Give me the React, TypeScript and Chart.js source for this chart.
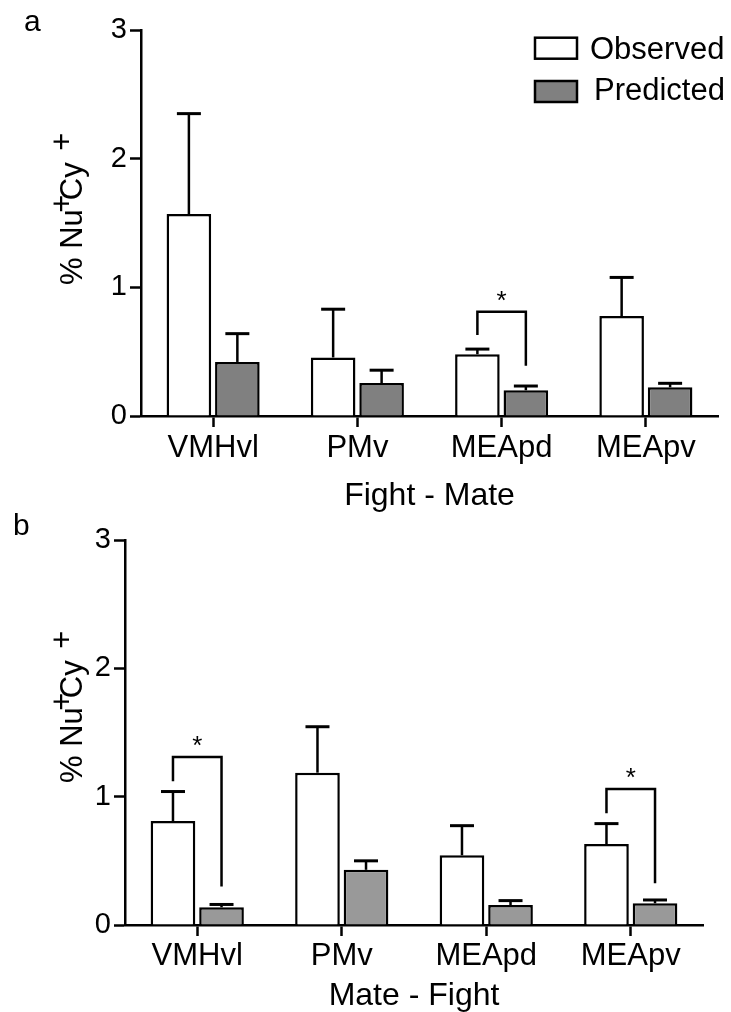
import React, { useEffect, useRef } from 'react';
import { Chart, registerables } from 'chart.js';

Chart.register(...registerables);

// ---------- data ----------
const categories = ['VMHvl', 'PMv', 'MEApd', 'MEApv'];
const seriesLabels = ['Observed', 'Predicted'];
const yTicks = [0, 1, 2, 3];

const fightMateObserved = [1.57, 0.455, 0.48, 0.777];
const fightMateObservedSem = [0.78, 0.375, 0.04, 0.3];
const fightMatePredicted = [0.42, 0.256, 0.2, 0.223];
const fightMatePredictedSem = [0.22, 0.1, 0.033, 0.031];

const mateFightObserved = [0.81, 1.187, 0.543, 0.631];
const mateFightObservedSem = [0.23, 0.358, 0.231, 0.159];
const mateFightPredicted = [0.138, 0.43, 0.156, 0.169];
const mateFightPredictedSem = [0.022, 0.07, 0.034, 0.026];

// significance brackets: category index, bracket level, left/right leg ends
const fightMateSignificance = [{ category: 2, bracket: 0.81, leftEnd: 0.63, rightEnd: 0.39 }];
const mateFightSignificance = [
  { category: 0, bracket: 1.31, leftEnd: 1.12, rightEnd: 0.3 },
  { category: 3, bracket: 1.06, leftEnd: 0.87, rightEnd: 0.325 },
];

const FAMILY = '"Liberation Sans", Arial, Helvetica, sans-serif';

type Panel = {
  letter: string;
  title: string;
  observed: number[];
  observedSem: number[];
  predicted: number[];
  predictedSem: number[];
  significance: { category: number; bracket: number; leftEnd: number; rightEnd: number }[];
  height: number;
  top: number;
  padTop: number;
  left: number;
  right: number;
  bottom: number;
  grey: string;
  tickPad: number;
  letterX: number;
  letterY: number;
  yLabelX: number;
  yLabelY: number;
  legend: boolean;
};

const panels: Panel[] = [
  {
    letter: 'a', title: 'Fight - Mate',
    observed: fightMateObserved, observedSem: fightMateObservedSem,
    predicted: fightMatePredicted, predictedSem: fightMatePredictedSem,
    significance: fightMateSignificance,
    height: 512, top: 0, padTop: 30, left: 141, right: 718, bottom: 416,
    grey: '#808080', tickPad: 3, letterX: 24, letterY: 31, yLabelX: 82, yLabelY: 285, legend: true,
  },
  {
    letter: 'b', title: 'Mate - Fight',
    observed: mateFightObserved, observedSem: mateFightObservedSem,
    predicted: mateFightPredicted, predictedSem: mateFightPredictedSem,
    significance: mateFightSignificance,
    height: 500, top: 512, padTop: 28, left: 125, right: 703, bottom: 413,
    grey: '#999999', tickPad: 1.5, letterX: 13, letterY: 23, yLabelX: 82, yLabelY: 271, legend: false,
  },
];

function drawYLabel(ctx: CanvasRenderingContext2D, x: number, y: number) {
  ctx.save();
  ctx.translate(x, y);
  ctx.rotate(-Math.PI / 2);
  ctx.font = `31px ${FAMILY}`;
  ctx.fillStyle = '#000';
  ctx.textAlign = 'left';
  ctx.textBaseline = 'alphabetic';
  let cx = 0;
  ctx.fillText('% Nu', cx, 0);
  cx += ctx.measureText('% Nu').width;
  const plusW = ctx.measureText('+').width;
  ctx.fillText('+', cx - plusW * 0.2, -10);
  cx += plusW * 0.5;
  ctx.fillText('Cy', cx, 0);
  cx += ctx.measureText('Cy ').width + 3;
  ctx.fillText('+', cx, -10);
  ctx.restore();
}

function makePlugin(p: Panel) {
  return {
    id: 'extras' + p.letter,
    afterDatasetsDraw(chart: any) {
      const ctx: CanvasRenderingContext2D = chart.ctx;
      const yScale = chart.scales.y;
      ctx.save();
      ctx.strokeStyle = '#000';
      ctx.fillStyle = '#000';
      // error bars (upper only)
      chart.data.datasets.forEach((ds: any, i: number) => {
        const meta = chart.getDatasetMeta(i);
        meta.data.forEach((el: any, j: number) => {
          const v = ds.data[j];
          const top = yScale.getPixelForValue(v + ds.errors[j]);
          ctx.lineWidth = 2.5;
          ctx.beginPath();
          ctx.moveTo(el.x, el.y);
          ctx.lineTo(el.x, top);
          ctx.stroke();
          ctx.lineWidth = 3;
          ctx.beginPath();
          ctx.moveTo(el.x - 12, top);
          ctx.lineTo(el.x + 12, top);
          ctx.stroke();
        });
      });
      // significance brackets
      const m0 = chart.getDatasetMeta(0);
      const m1 = chart.getDatasetMeta(1);
      p.significance.forEach((s) => {
        const xl = m0.data[s.category].x;
        const xr = m1.data[s.category].x;
        const yb = yScale.getPixelForValue(s.bracket);
        ctx.lineWidth = 2.5;
        ctx.beginPath();
        ctx.moveTo(xl, yScale.getPixelForValue(s.leftEnd));
        ctx.lineTo(xl, yb);
        ctx.lineTo(xr, yb);
        ctx.lineTo(xr, yScale.getPixelForValue(s.rightEnd));
        ctx.stroke();
        ctx.font = `26px ${FAMILY}`;
        ctx.textAlign = 'center';
        ctx.textBaseline = 'alphabetic';
        ctx.fillText('*', (xl + xr) / 2, yb - 3);
      });
      ctx.restore();
    },
    afterDraw(chart: any) {
      const ctx: CanvasRenderingContext2D = chart.ctx;
      ctx.save();
      ctx.fillStyle = '#000';
      ctx.font = `30px ${FAMILY}`;
      ctx.textAlign = 'left';
      ctx.textBaseline = 'alphabetic';
      ctx.fillText(p.letter, p.letterX, p.letterY);
      drawYLabel(ctx, p.yLabelX, p.yLabelY);
      if (p.legend) {
        const bx = chart.chartArea.right - 183;
        const rows = [
          { y: 37.7, fill: '#ffffff', tx: 590, ty: 59 },
          { y: 81, fill: p.grey, tx: 594, ty: 100 },
        ];
        rows.forEach((r, i) => {
          ctx.fillStyle = r.fill;
          ctx.fillRect(bx, r.y, 42, 21);
          ctx.strokeStyle = '#000';
          ctx.lineWidth = 2.5;
          ctx.strokeRect(bx, r.y, 42, 21);
          ctx.fillStyle = '#000';
          ctx.font = `31px ${FAMILY}`;
          ctx.fillText(seriesLabels[i], r.tx, r.ty);
        });
      }
      ctx.restore();
    },
  };
}

function PanelChart({ p }: { p: Panel }) {
  const ref = useRef<HTMLCanvasElement | null>(null);
  useEffect(() => {
    if (!ref.current) return;
    const chart = new Chart(ref.current, {
      type: 'bar',
      data: {
        labels: categories,
        datasets: [
          {
            label: seriesLabels[0],
            data: p.observed,
            errors: p.observedSem,
            backgroundColor: '#ffffff',
            borderColor: '#000000',
            borderWidth: 2.5,
            categoryPercentage: 0.672,
            barPercentage: 0.92,
          } as any,
          {
            label: seriesLabels[1],
            data: p.predicted,
            errors: p.predictedSem,
            backgroundColor: p.grey,
            borderColor: '#000000',
            borderWidth: 2.5,
            categoryPercentage: 0.672,
            barPercentage: 0.92,
          } as any,
        ],
      },
      options: {
        animation: false,
        responsive: false,
        devicePixelRatio: 1,
        layout: { padding: { top: p.padTop, right: 731 - p.right, left: 0, bottom: 0 } },
        plugins: { legend: { display: false }, tooltip: { enabled: false } },
        scales: {
          x: {
            type: 'category',
            offset: true,
            grid: {
              offset: false,
              drawOnChartArea: false,
              drawTicks: true,
              tickLength: 11,
              tickWidth: 2.5,
              tickColor: '#000',
            },
            border: { display: true, color: '#000', width: 2.5 },
            ticks: {
              color: '#000',
              font: { family: FAMILY, size: 31 },
              padding: p.tickPad,
              maxRotation: 0,
              autoSkip: false,
            },
            title: {
              display: true,
              text: p.title,
              color: '#000',
              font: { family: FAMILY, size: 32, lineHeight: 1 },
              padding: { top: 0, bottom: 0 },
            },
            afterFit: (s: any) => {
              s.height = p.height - p.bottom;
            },
          },
          y: {
            min: 0,
            max: 3,
            afterBuildTicks: (s: any) => {
              s.ticks = yTicks.map((v) => ({ value: v }));
            },
            ticks: {
              color: '#000',
              font: { family: FAMILY, size: 29 },
              padding: 3,
              callback: (v: any) => String(v),
            },
            grid: {
              drawOnChartArea: false,
              drawTicks: true,
              tickLength: 11,
              tickWidth: 2.5,
              tickColor: '#000',
            },
            border: { display: true, color: '#000', width: 2.5 },
            afterFit: (s: any) => {
              s.width = p.left;
            },
          },
        },
      } as any,
      plugins: [makePlugin(p)],
    });
    return () => chart.destroy();
  }, [p]);
  return (
    <canvas
      ref={ref}
      width={731}
      height={p.height}
      style={{ position: 'absolute', left: 0, top: p.top, width: 731, height: p.height }}
    />
  );
}

export default function App() {
  return (
    <div style={{ position: 'absolute', left: 0, top: 0, width: 731, height: 1012, background: '#fff' }}>
      {panels.map((p) => (
        <PanelChart key={p.letter} p={p} />
      ))}
    </div>
  );
}
